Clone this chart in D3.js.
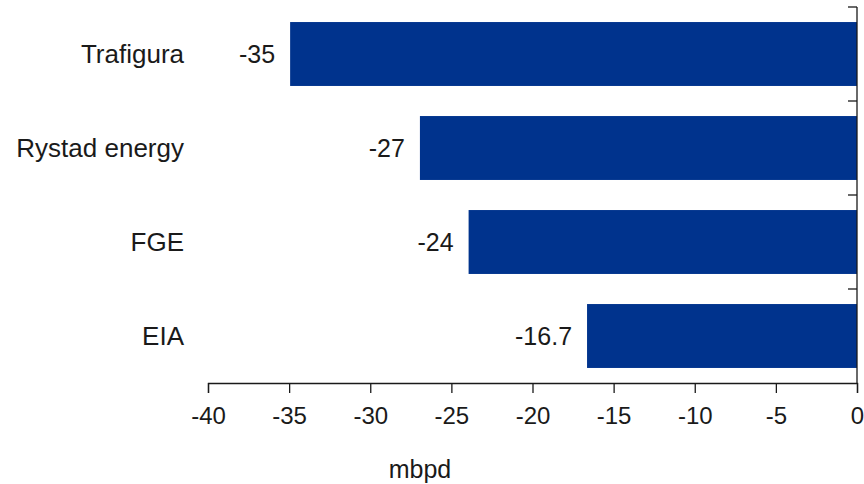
<!DOCTYPE html>
<html>
<head>
<meta charset="utf-8">
<script src="https://cdn.jsdelivr.net/npm/d3@7"></script>
<style>
  body { margin: 0; background: #fff; }
  text { font-family: "Liberation Sans", Arial, sans-serif; fill: #1a1a1a; }
</style>
</head>
<body>
<div id="chart"></div>
<script>
// data
const categories = ["Trafigura", "Rystad energy", "FGE", "EIA"];
const values = [-35, -27, -24, -16.7];
const valueLabels = ["-35", "-27", "-24", "-16.7"];
const xTicks = [-40, -35, -30, -25, -20, -15, -10, -5, 0];
const axisTitle = "mbpd";

const width = 864;
const height = 484;
const barColor = "#00338d";

const svg = d3.select("#chart")
    .append("svg")
    .attr("width", width)
    .attr("height", height);

const x = d3.scaleLinear().domain([-40, 0]).range([208, 857]);
const y = d3.scaleBand().domain(categories).range([7, 383]).paddingInner(0.32).paddingOuter(0.16);

// bars
svg.append("g")
    .selectAll("rect")
    .data(values)
    .join("rect")
    .attr("x", d => x(d) + 1)
    .attr("y", (d, i) => y(categories[i]))
    .attr("width", d => x(0) - x(d) - 1)
    .attr("height", y.bandwidth())
    .attr("fill", barColor);

// value labels
svg.append("g")
    .selectAll("text")
    .data(values)
    .join("text")
    .attr("x", d => x(d) - 14)
    .attr("y", (d, i) => y(categories[i]) + y.bandwidth() / 2)
    .attr("dy", "0.35em")
    .attr("text-anchor", "end")
    .attr("font-size", "25px")
    .text((d, i) => valueLabels[i]);

// category labels
svg.append("g")
    .selectAll("text")
    .data(categories)
    .join("text")
    .attr("x", 184)
    .attr("y", d => y(d) + y.bandwidth() / 2)
    .attr("dy", "0.35em")
    .attr("text-anchor", "end")
    .attr("font-size", "26px")
    .text(d => d);

// bottom axis
const xAxis = svg.append("g")
    .attr("transform", "translate(0,383)")
    .call(d3.axisBottom(x).tickValues(xTicks).tickFormat(d3.format("d")).tickSize(10).tickPadding(14));
xAxis.select(".domain").attr("stroke", "#1a1a1a").attr("stroke-width", 1.3);
xAxis.selectAll(".tick line").attr("stroke", "#1a1a1a").attr("stroke-width", 1.3);
xAxis.selectAll(".tick text")
    .attr("font-size", "24px")
    .attr("font-family", "Liberation Sans, Arial, sans-serif")
    .attr("fill", "#1a1a1a")
    .text(d => String(d));

// right category axis (boundary ticks)
const bounds = categories.map(c => y(c) - y.step() * y.paddingInner() / 2);
svg.append("line")
    .attr("x1", x(0)).attr("x2", x(0))
    .attr("y1", bounds[0]).attr("y2", 383)
    .attr("stroke", "#1a1a1a").attr("stroke-width", 1.3);
svg.append("g")
    .selectAll("line")
    .data(bounds)
    .join("line")
    .attr("x1", x(0) - 9).attr("x2", x(0))
    .attr("y1", d => d).attr("y2", d => d)
    .attr("stroke", "#1a1a1a").attr("stroke-width", 1.3);

// axis title
svg.append("text")
    .attr("x", 420)
    .attr("y", 478)
    .attr("text-anchor", "middle")
    .attr("font-size", "25px")
    .text(axisTitle);
</script>
</body>
</html>
